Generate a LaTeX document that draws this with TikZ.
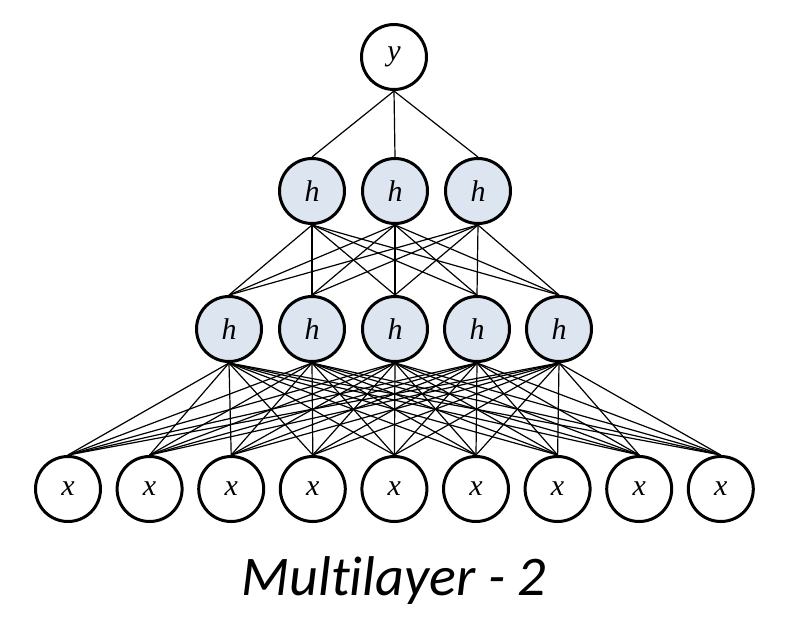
\documentclass[tikz,border=0pt]{standalone}
\usepackage{fontspec}
\setmainfont{Liberation Serif}
\newfontfamily\titlefont[Ligatures=NoCommon]{Carlito}
\definecolor{hfill}{HTML}{DDE5F0}
\begin{document}
\begin{tikzpicture}[x=1pt,y=-1pt,
  unit/.style={circle,draw=black,line width=3pt,minimum size=65pt,inner sep=0pt,fill=white,font=\fontsize{30}{34}\selectfont\itshape},
  hid/.style={unit,fill=hfill},
  link/.style={line width=1.2pt,black}]
\useasboundingbox (0,0) rectangle (800,632);
\node[unit] (y) at (394,57) {y};
\foreach \i/\xx in {1/312,2/395,3/478}
  \node[hid] (b\i) at (\xx,191) {h};
\foreach \i/\xx in {1/229,2/312,3/395,4/477,5/559}
  \node[hid] (a\i) at (\xx,329) {h};
\foreach \i in {1,...,9}
  \node[unit] (x\i) at ({68+81.6*(\i-1)},489) {x};
\foreach \i in {1,2,3} \draw[link] (y.south) -- (b\i.north);
\foreach \i in {1,2,3} \foreach \j in {1,...,5} \draw[link] (b\i.south) -- (a\j.north);
\foreach \i in {1,...,5} \foreach \j in {1,...,9} \draw[link] (a\i.south) -- (x\j.north);
\node[font=\titlefont\fontsize{56}{60}\selectfont\itshape,anchor=base] (t) at (394,595) {Multilayer - 2};
\end{tikzpicture}
\end{document}
